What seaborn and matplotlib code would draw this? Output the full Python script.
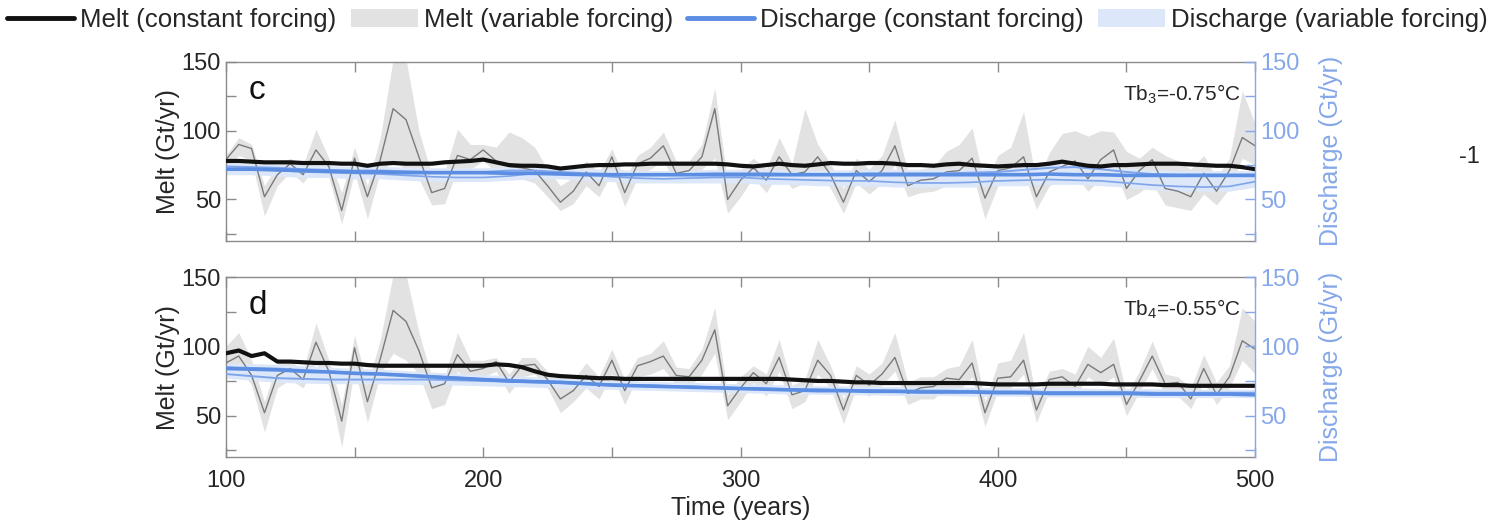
import numpy as np
import pandas as pd
import seaborn as sns
import matplotlib.pyplot as plt
from matplotlib.lines import Line2D
from matplotlib.patches import Patch

# time axes
years = list(range(100, 505, 5))      # 5-yr grid for melt series
years_q = list(range(100, 510, 10))   # 10-yr grid for smooth discharge series

# ---------------- panel c ----------------
c_melt_const = [78, 78, 77.5, 77, 77, 77, 76.5, 76.5, 76.5, 76, 76, 74.5, 76, 76.5, 76, 76, 76, 77, 77.5, 78,
                79, 77, 75, 74.5, 74.5, 74, 72.5, 73.5, 74.5, 75, 75, 75.5, 75.5, 76, 76, 76, 76, 76, 76, 75.5,
                74.5, 74, 75, 76, 75, 74.5, 75.5, 76.5, 76, 76, 76.5, 76.5, 76, 75, 75, 74.5, 75.5, 76, 75, 74.5,
                74, 74.5, 75, 75, 76, 77.5, 76, 74.5, 74, 75, 75, 75.5, 76, 76, 76, 75.5, 75, 74.5, 74.5, 73.5, 72]
c_melt_var = [79, 90, 87, 52, 68, 76, 68, 86, 74, 42, 80, 52, 79, 116, 108, 81, 55, 58, 82, 79,
              86, 78, 74, 73, 71, 60, 48, 56, 70, 60, 81, 55, 76, 80, 89, 69, 71, 81, 116, 50,
              64, 73, 64, 81, 68, 70, 81, 68, 48, 71, 63, 71, 89, 60, 64, 65, 70, 71, 80, 51,
              71, 73, 81, 52, 70, 74, 78, 65, 79, 86, 58, 71, 79, 58, 56, 52, 69, 56, 71, 95, 89]
c_melt_lo = [72, 82, 78, 38, 60, 70, 62, 75, 66, 32, 70, 36, 70, 78, 72, 65, 46, 47, 72, 72,
             78, 70, 66, 65, 62, 52, 42, 47, 60, 52, 70, 45, 66, 72, 78, 62, 64, 72, 80, 40,
             52, 66, 55, 70, 58, 62, 70, 58, 40, 62, 54, 62, 75, 52, 55, 56, 60, 62, 70, 36,
             60, 62, 70, 43, 60, 64, 68, 56, 65, 74, 50, 55, 62, 46, 44, 42, 54, 46, 58, 80, 75]
c_melt_hi = [82, 95, 90, 60, 75, 80, 75, 101, 80, 55, 88, 60, 95, 152, 152, 100, 68, 70, 101, 90,
             90, 88, 99, 95, 88, 72, 60, 66, 78, 70, 87, 65, 82, 88, 99, 78, 78, 90, 131, 62,
             72, 80, 72, 95, 76, 116, 90, 76, 58, 80, 72, 82, 108, 70, 72, 74, 85, 90, 102, 60,
             82, 88, 114, 62, 84, 98, 100, 96, 100, 99, 85, 80, 88, 82, 78, 72, 82, 66, 80, 129, 105]
c_dis_const = [72, 72, 71.5, 71, 70.5, 70, 70, 69.5, 69.5, 69.5, 69.5, 69, 69, 68.5, 68, 68, 68, 68, 68, 68,
               68, 68, 68, 68, 68, 68, 68, 68, 68, 68, 68, 68, 68.5, 68, 68, 67.5, 67.5, 67.5, 67.5, 67.5, 67.5]
c_dis_var1 = [74, 73.5, 73, 72, 71.5, 71, 71, 70.5, 70, 69.5, 70, 71, 71, 70, 69, 68.5, 68, 68, 68.5, 69,
              69, 69, 68.5, 68.5, 68.5, 69, 69, 69, 69, 69.5, 70, 71.5, 73, 73.5, 72, 70, 68.5, 68, 68, 68, 68]
c_dis_var2 = [72, 72, 71, 70, 69.5, 69, 68.5, 67.5, 66.5, 66, 66, 67, 69, 69.5, 68, 66.5, 65.5, 65, 65.5, 66,
              66, 65, 64.5, 64, 63.5, 63.5, 62.5, 62, 62, 62.5, 63.5, 64, 64.5, 64, 63.5, 62, 60.5, 59.5, 59, 59.5, 63]
c_dis_lo = [68, 68, 67, 66, 66, 65, 65, 64, 63, 63, 63, 64, 65, 65, 64, 63, 62, 62, 62, 62,
            62, 61, 61, 60, 60, 60, 59, 59, 59, 59, 60, 60, 61, 61, 60, 59, 57, 56, 56, 56, 59]
c_dis_hi = [77, 76.5, 76, 75, 74.5, 74, 74, 73.5, 73, 73, 73, 74, 74, 73, 72, 72, 71, 71, 71.5, 72,
            72, 72, 71.5, 71.5, 71.5, 72, 72, 72, 72, 72.5, 73, 74.5, 76, 76.5, 75, 73, 71.5, 71, 71, 71, 71]

# ---------------- panel d ----------------
d_melt_const = [95, 97, 93, 95, 89, 89, 88.5, 88, 88, 87.5, 87.5, 86.5, 86, 86, 86, 86, 86, 86, 86, 86,
                86, 87, 86.5, 85, 82, 79.5, 78.5, 78, 77.5, 77, 77, 76.5, 76.5, 76.5, 76.5, 76.5, 76.5, 76.5, 76.5, 76.5,
                76.5, 76.5, 76.5, 76.5, 76, 75.5, 75, 75, 74.5, 74, 74, 73.5, 73.5, 73.5, 73.5, 73.5, 73.5, 73.5, 73.5, 73,
                72.5, 72.5, 72.5, 72.5, 73, 73, 73, 73, 73, 72.5, 72.5, 72.5, 72.5, 72, 72, 71.5, 71.5, 71.5, 71.5, 71.5, 71.5]
d_melt_var = [88, 93, 79, 52, 79, 84, 76, 103, 82, 46, 99, 60, 91, 126, 118, 97, 70, 73, 94, 82,
              84, 89, 74, 86, 87, 76, 62, 68, 79, 71, 90, 68, 86, 89, 93, 79, 78, 90, 112, 57,
              70, 81, 73, 92, 65, 68, 90, 79, 54, 79, 72, 80, 92, 66, 70, 71, 77, 76, 88, 52,
              77, 78, 90, 54, 76, 78, 71, 87, 81, 87, 58, 75, 93, 73, 74, 62, 84, 65, 78, 104, 98]
d_melt_lo = [80, 85, 72, 38, 70, 76, 70, 88, 72, 27, 84, 45, 80, 95, 90, 80, 55, 58, 82, 74,
             78, 82, 66, 78, 80, 70, 52, 60, 70, 62, 80, 58, 78, 80, 84, 72, 70, 80, 95, 47,
             60, 74, 64, 82, 55, 60, 80, 70, 44, 70, 64, 72, 82, 58, 62, 62, 70, 68, 78, 42,
             68, 70, 80, 45, 68, 70, 64, 78, 72, 78, 50, 67, 84, 64, 64, 55, 74, 58, 70, 90, 80]
d_melt_hi = [100, 110, 90, 60, 88, 90, 82, 117, 90, 58, 108, 72, 105, 152, 152, 110, 78, 78, 110, 90,
             90, 92, 80, 92, 92, 82, 70, 76, 88, 78, 98, 76, 92, 95, 104, 85, 84, 98, 128, 65,
             78, 86, 80, 105, 72, 76, 105, 86, 62, 86, 80, 88, 110, 74, 78, 78, 84, 86, 105, 60,
             88, 90, 110, 62, 82, 84, 80, 100, 92, 106, 65, 82, 104, 80, 78, 70, 94, 74, 86, 128, 118]
d_dis_const = [84, 83.5, 83, 82, 81.5, 80.5, 80, 79, 78, 77, 76, 75, 74.5, 74, 73, 72, 71.5, 71, 70.5, 70,
               69.5, 69, 68.5, 68, 68, 67.5, 67.5, 67, 67, 67, 66.5, 66.5, 66, 66, 66, 66, 65.5, 65.5, 65.5, 65.5, 65]
d_dis_var1 = [80, 78.5, 77, 76.5, 76, 76, 76, 76, 76, 75.5, 75, 74.5, 74, 73.5, 73, 72.5, 72, 71.5, 71, 70.5,
              70, 69.5, 69, 69, 68.5, 68.5, 68, 68, 68, 67.5, 67.5, 67.5, 67, 67, 67, 67, 66.5, 66.5, 66.5, 66.5, 66.5]
d_dis_var2 = [85, 84.5, 84, 83, 82, 81, 80.5, 79.5, 78.5, 77.5, 76.5, 76, 75, 74.5, 73.5, 72.5, 72, 71.5, 71, 70.5,
              70, 69.5, 69, 68.5, 68.5, 68, 68, 68, 67.5, 67.5, 67, 67, 67, 67, 66.5, 66.5, 66.5, 66, 66, 66, 66]
d_dis_lo = [77, 75.5, 74, 73.5, 73, 73, 73, 72.5, 72.5, 72, 71.5, 71, 70.5, 70, 69.5, 69, 68.5, 68, 67.5, 67,
            66.5, 66, 65.5, 65.5, 65, 65, 64.5, 64.5, 64.5, 64, 64, 64, 63.5, 63.5, 63.5, 63.5, 63, 63, 63, 63, 63]
d_dis_hi = [88, 87.5, 87, 86, 85, 84, 83.5, 82.5, 81.5, 80.5, 79.5, 79, 78, 77.5, 76.5, 75.5, 75, 74.5, 74, 73.5,
            73, 72.5, 72, 71.5, 71.5, 71, 71, 71, 70.5, 70.5, 70, 70, 70, 70, 69.5, 69.5, 69.5, 69, 69, 69, 69]

panel_letters = ['c', 'd']
panel_notes = [r'Tb$_3$=-0.75°C', r'Tb$_4$=-0.55°C']
legend_labels = ['Melt (constant forcing)', 'Melt (variable forcing)',
                 'Discharge (constant forcing)', 'Discharge (variable forcing)']

BLACK = '#111111'
GREY_LINE = '#7a7a7a'
GREY_FILL = '#e2e2e2'
BLUE = '#5b8de3'
BLUE_THIN = '#7ea4ea'
BLUE_FILL = '#dce7fa'
BLUE_AX = '#86a8ea'
SPINE = '#8a8a8a'
TXT = '#262626'

sns.set_style('ticks')
plt.rcParams['font.family'] = ['Liberation Sans', 'DejaVu Sans']
plt.rcParams['mathtext.fontset'] = 'custom'
plt.rcParams['mathtext.rm'] = 'Liberation Sans'
plt.rcParams['mathtext.default'] = 'regular'

fig = plt.figure(figsize=(14.96, 5.2), dpi=100)
ax_c = fig.add_axes([0.151, 0.537, 0.688, 0.344])
ax_d = fig.add_axes([0.151, 0.121, 0.688, 0.346])

panels = [
    (ax_c, c_melt_const, c_melt_var, c_melt_lo, c_melt_hi, c_dis_const, c_dis_var1, c_dis_var2, c_dis_lo, c_dis_hi),
    (ax_d, d_melt_const, d_melt_var, d_melt_lo, d_melt_hi, d_dis_const, d_dis_var1, d_dis_var2, d_dis_lo, d_dis_hi),
]

for i, (ax, m_c, m_v, m_lo, m_hi, q_c, q_v1, q_v2, q_lo, q_hi) in enumerate(panels):
    ax.fill_between(years, m_lo, m_hi, color=GREY_FILL, lw=0, zorder=1)
    ax.fill_between(years_q, q_lo, q_hi, color=BLUE_FILL, lw=0, zorder=2)
    sns.lineplot(x=years, y=m_v, ax=ax, color=GREY_LINE, lw=1.0, zorder=3)
    sns.lineplot(x=years_q, y=q_v2, ax=ax, color=BLUE_THIN, lw=1.2, zorder=4)
    sns.lineplot(x=years_q, y=q_v1, ax=ax, color=BLUE_THIN, lw=1.4, zorder=4)
    sns.lineplot(x=years_q, y=q_c, ax=ax, color=BLUE, lw=2.6, zorder=5)
    sns.lineplot(x=years, y=m_c, ax=ax, color=BLACK, lw=3.0, zorder=6)

    ax.set_xlim(100, 500)
    ax.set_ylim(20, 150)
    ax.set_xticks(range(100, 501, 50))
    ax.set_xticklabels([str(t) if t % 100 == 0 else '' for t in range(100, 501, 50)])
    ax.set_yticks([25, 50, 75, 100, 125, 150])
    ax.set_yticklabels(['', '50', '', '100', '', '150'])
    ax.tick_params(axis='both', direction='in', length=7, width=1, color=SPINE,
                   labelsize=17, labelcolor=TXT, top=True, right=False)
    ax.tick_params(axis='x', pad=9)
    for s in ['left', 'bottom', 'top']:
        ax.spines[s].set_color(SPINE)
        ax.spines[s].set_linewidth(1)
    ax.spines['right'].set_visible(False)
    ax.set_ylabel('Melt (Gt/yr)', fontsize=18, color=TXT, labelpad=1)
    ax.set_xlabel('')

    ax.text(0.022, 0.84, panel_letters[i], transform=ax.transAxes, fontsize=24,
            ha='left', va='center', color='#111111')
    ax.text(0.986, 0.82, panel_notes[i], transform=ax.transAxes, fontsize=15,
            ha='right', va='center', color=TXT)

    axr = ax.twinx()
    axr.set_ylim(20, 150)
    axr.set_yticks([25, 50, 75, 100, 125, 150])
    axr.set_yticklabels(['', '50', '', '100', '', '150'])
    axr.tick_params(axis='y', direction='in', length=7, width=1, color=BLUE_AX,
                    labelsize=17, labelcolor=BLUE_AX)
    for s in ['left', 'bottom', 'top']:
        axr.spines[s].set_visible(False)
    axr.spines['right'].set_color(BLUE_AX)
    axr.spines['right'].set_linewidth(1)
    axr.set_ylabel('Discharge (Gt/yr)', fontsize=18, color=BLUE_AX, labelpad=14)

ax_c.tick_params(axis='x', labelbottom=False)
ax_d.set_xlabel('Time (years)', fontsize=18, color=TXT, labelpad=3)

fig.text(0.982, 0.698, '-1', fontsize=17, ha='center', va='center', color=TXT)

handles = [
    Line2D([], [], color=BLACK, lw=3.5),
    Patch(facecolor=GREY_FILL, edgecolor='none'),
    Line2D([], [], color=BLUE, lw=3.5),
    Patch(facecolor=BLUE_FILL, edgecolor='none'),
]
fig.legend(handles, legend_labels, loc='center', bbox_to_anchor=(0.4997, 0.962), ncol=4,
           frameon=False, fontsize=18.6, handlelength=2.6, handletextpad=0.23,
           columnspacing=0.55, labelcolor=TXT, borderaxespad=0, borderpad=0)

fig.savefig('out.png', dpi=100)
